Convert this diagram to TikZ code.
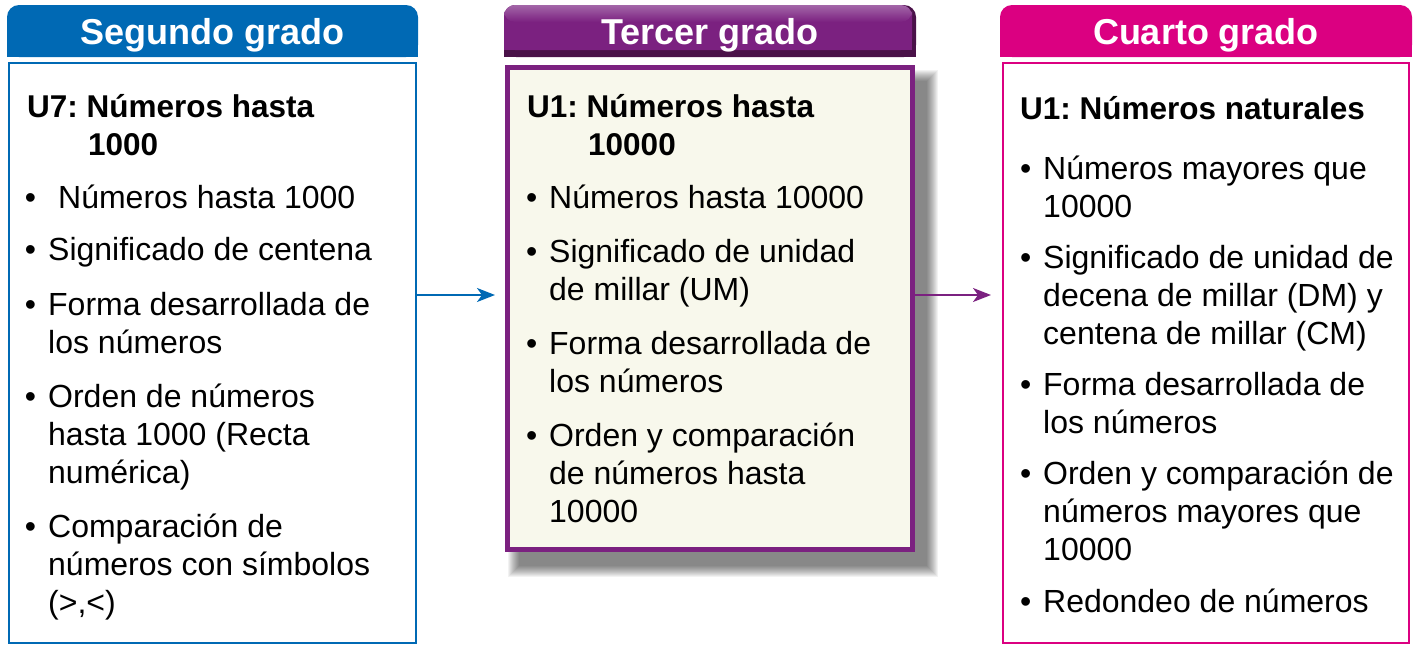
\documentclass[tikz,border=0pt]{standalone}
\usepackage{fontspec}
\setmainfont{Liberation Sans}
\usepackage{xcolor}
\usetikzlibrary{arrows.meta, positioning, calc}

\definecolor{segblue}{HTML}{0069B4}
\definecolor{terpurple}{HTML}{7B2180}
\definecolor{terdark}{HTML}{4A1249}
\definecolor{terlight}{HTML}{A366A8}
\definecolor{cuamag}{HTML}{DB0081}
\definecolor{tercream}{HTML}{F8F8EC}

\newcommand{\vinieta}{\llap{\textbullet\hspace{12pt}}}
\frenchspacing

\tikzset{
  head/.style={minimum width=411pt, minimum height=52pt, inner sep=0pt, yshift=-4pt,
    text=white, font=\fontsize{36}{36}\selectfont\bfseries},
  frame/.style={minimum width=407pt, minimum height=580pt, inner sep=0pt,
    line width=2pt, fill=white},
  % coordinate of an entry = baseline of its last line
  entry/.style={anchor=base west, align=left, inner sep=0pt,
    font=\fontsize{32}{38}\selectfont},
  unit/.style={entry, font=\fontsize{31.5}{38}\selectfont\bfseries},
  link/.style={line width=2pt, -{Stealth[length=18pt, width=14pt, inset=5pt]}}
}

\begin{document}
\begin{tikzpicture}[x=1pt, y=-1pt]
  \useasboundingbox (0,0) rectangle (1414,645);
  % header bars, rounded on top only
  \fill[segblue, rounded corners=12pt] (7,5) rectangle (418,57);
  \fill[segblue] (7,31) rectangle (418,57);
  \fill[cuamag, rounded corners=12pt] (1000,5) rectangle (1412,57);
  \fill[cuamag] (1000,31) rectangle (1412,57);
  % bevelled purple bar
  \fill[terdark, rounded corners=12pt] (504,5) rectangle (916,57);
  \fill[terdark] (504,31) rectangle (916,57);
  \fill[terpurple, rounded corners=11pt] (504,5) rectangle (912,50);
  \fill[terpurple] (504,31) rectangle (912,50);
  \shade[top color=terlight, bottom color=terpurple, rounded corners=11pt] (504,5) rectangle (912,22);

  \node[head] (seghead) at (212.5,31) {Segundo grado};
  \node[head] (terhead) at (710,31) {Tercer grado};
  \node[head] (cuahead) at (1206,31) {Cuarto grado};

  % body boxes
  \node[frame, draw=segblue] (segbox) at (212,353) {};
  \node[frame, draw=cuamag, minimum width=406pt] (cuabox) at (1206,353) {};
  % soft shadow under the middle box
  \coordinate (shnw) at (505,65);
  \coordinate (shse) at (915,552);
  \foreach \r in {0,...,11}
    \fill[black, opacity=0.05] ($(shnw)+(14-\r,16-\r)$) rectangle ($(shse)+(12+\r,14+\r)$);
  \node[frame, draw=terpurple, fill=tercream, line width=5pt,
    minimum width=405pt, minimum height=482pt] (terbox) at (710,308.5) {};

  % arrows between the grades
  \coordinate (arrowy) at (0,295);
  \draw[link, segblue, shorten >=10pt] (segbox.east |- arrowy) -- (terbox.west |- arrowy);
  \draw[link, terpurple, shorten >=11pt] (terbox.east |- arrowy) -- (cuabox.west |- arrowy);

  % Segundo grado
  \node[unit] (sg0) at (27,155) {U7: Números hasta\\\hspace*{61pt}1000};
  \node[entry] (sg1) at (48,208) {\vinieta\hspace*{10pt}Números hasta 1000};
  \node[entry] (sg2) at (48,260) {\vinieta Significado de centena};
  \node[entry] (sg3) at (48,353) {\vinieta Forma desarrollada de\\los números};
  \node[entry] (sg4) at (48,483) {\vinieta Orden de números\\hasta 1000 (Recta\\numérica)};
  \node[entry] (sg5) at (48,613) {\vinieta Comparación de\\números con símbolos\\(>,<)};

  % Tercer grado
  \node[unit] (tc0) at (527,155) {U1: Números hasta\\\hspace*{61pt}10000};
  \node[entry] (tc1) at (549,208) {\vinieta Números hasta 10000};
  \node[entry] (tc2) at (549,300) {\vinieta Significado de unidad\\de millar (UM)};
  \node[entry] (tc3) at (549,392) {\vinieta Forma desarrollada de\\los números};
  \node[entry] (tc4) at (549,522) {\vinieta Orden y comparación\\de números hasta\\10000};

  % Cuarto grado
  \node[unit] (ct0) at (1020,119) {U1: Números naturales};
  \node[entry] (ct1) at (1043,217) {\vinieta Números mayores que\\10000};
  \node[entry] (ct2) at (1043,344) {\vinieta Significado de unidad de\\decena de millar (DM) y\\centena de millar (CM)};
  \node[entry] (ct3) at (1043,433) {\vinieta Forma desarrollada de\\los números};
  \node[entry] (ct4) at (1043,560) {\vinieta Orden y comparación de\\números mayores que\\10000};
  \node[entry] (ct5) at (1043,612) {\vinieta Redondeo de números};
\end{tikzpicture}
\end{document}
